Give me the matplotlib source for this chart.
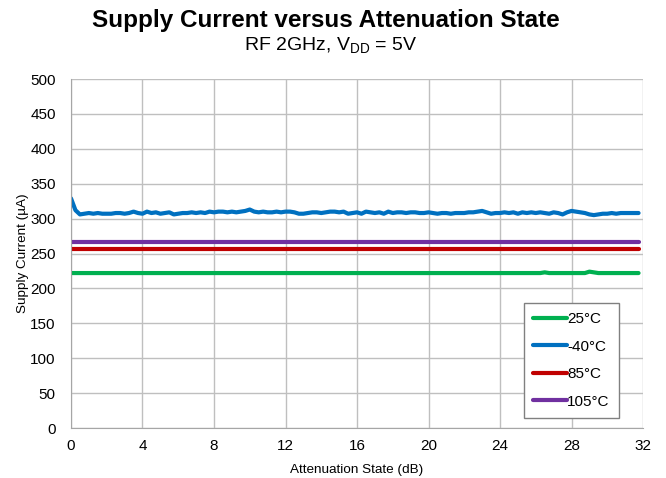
import matplotlib
matplotlib.use('Agg')
import numpy as np
import matplotlib.pyplot as plt

plt.rcParams['font.family'] = ['Liberation Sans', 'DejaVu Sans']

# attenuation state, 0 to 31.75 dB in 0.25 dB steps
atten = np.arange(128) * 0.25

i_m40 = [329, 312, 306, 307, 308, 307, 308, 307,
         307, 307, 308, 308, 307, 308, 310, 308,
         307, 310, 308, 309, 307, 308, 309, 306,
         307, 308, 308, 309, 308, 309, 308, 310,
         309, 310, 310, 309, 310, 309, 310, 311,
         313, 310, 309, 310, 309, 309, 310, 309,
         310, 310, 309, 307, 307, 308, 309, 309,
         308, 309, 310, 310, 309, 310, 307, 308,
         309, 307, 310, 309, 308, 309, 307, 310,
         308, 309, 309, 308, 309, 309, 308, 308,
         309, 308, 307, 308, 308, 307, 308, 308,
         308, 309, 309, 310, 311, 309, 307, 308,
         308, 309, 308, 309, 307, 309, 308, 309,
         308, 309, 308, 307, 309, 308, 306, 309,
         311, 310, 309, 308, 306, 305, 306, 307,
         307, 308, 307, 308, 308, 308, 308, 308]

i_25 = ([222] * 106 + [223, 222, 222, 222, 222, 222, 222, 222,
                       222, 222, 224, 223, 222, 222, 222, 222,
                       222, 222, 222, 222, 222, 222])
i_85 = [256] * 128
i_105 = [266] * 128

series = [
    ('25°C', i_25, '#00B050'),
    ('-40°C', i_m40, '#0070C0'),
    ('85°C', i_85, '#C00000'),
    ('105°C', i_105, '#7030A0'),
]


def main():
    fig = plt.figure(figsize=(6.66, 4.78), dpi=100)
    ax = fig.add_axes([0.1066, 0.1046, 0.8589, 0.7301])

    for name, vals, col in series:
        ax.plot(atten, vals, color=col, lw=3, label=name, solid_capstyle='round')

    ax.set_xlim(0, 32)
    ax.set_ylim(0, 500)
    ax.set_xticks(np.arange(0, 33, 4))
    ax.set_yticks(np.arange(0, 501, 50))
    ax.grid(True, color='#BFBFBF', lw=1)
    ax.set_axisbelow(True)
    for s in ['top', 'right']:
        ax.spines[s].set_visible(False)
    for s in ['left', 'bottom']:
        ax.spines[s].set_color('#A6A6A6')
    ax.tick_params(length=0, labelsize=11, colors='black')
    ax.tick_params(axis='y', pad=11)
    ax.tick_params(axis='x', pad=8)

    ax.set_xlabel('Attenuation State (dB)', fontsize=9.7, labelpad=8)
    ax.set_ylabel('Supply Current (µA)', fontsize=9.7, labelpad=1)

    fig.text(0.49, 0.957, 'Supply Current versus Attenuation State',
             ha='center', va='center', fontsize=17.5, fontweight='bold')
    fig.text(0.497, 0.905, 'RF 2GHz, V$_{\\mathregular{DD}}$ = 5V',
             ha='center', va='center', fontsize=14)

    leg = ax.legend(loc='lower right', bbox_to_anchor=(0.958, 0.029),
                    fontsize=11, fancybox=False, framealpha=1,
                    edgecolor='#808080', handlelength=2.2, handletextpad=0.05,
                    labelspacing=0.88, borderpad=0.6, borderaxespad=0)
    leg.get_frame().set_linewidth(1)

    fig.savefig('out.png', dpi=100)


if __name__ == "__main__":
    main()
